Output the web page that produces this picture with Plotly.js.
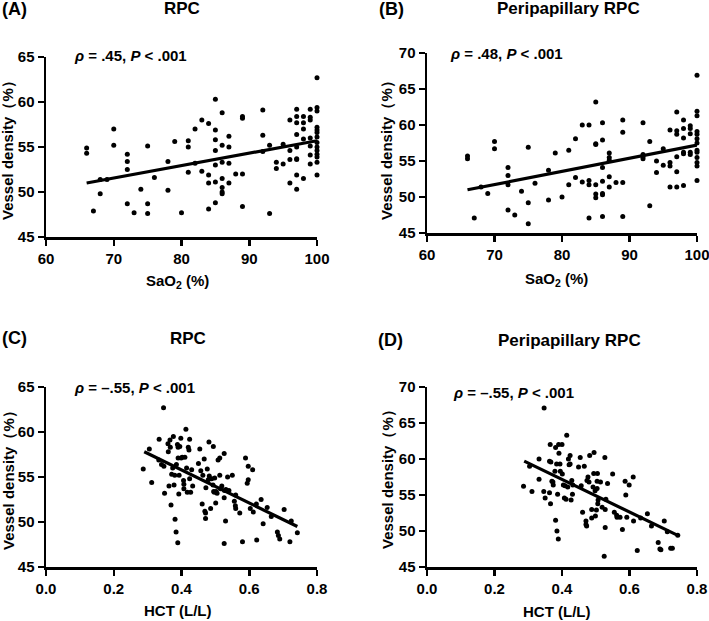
<!DOCTYPE html>
<html>
<head>
<meta charset="utf-8">
<script src="https://cdn.plot.ly/plotly-3.0.1.min.js"></script>
<style>html,body{margin:0;padding:0;background:#fff;}#chart{width:709px;height:621px;}</style>
</head>
<body>
<div id="chart"></div>
<script>
// Panel A: RPC vs SaO2
const saO2_A = [66,66,67,68,68,69,70,70,72,72,72,72,73,74,75,75,75,76,78,78,79,80,81,81,81,82,82,83,83,84,84,84,84,85,85,85,85,85,85,85,86,86,86,86,86,86,86,87,87,87,87,88,89,89,89,89,92,92,92,93,93,94,94,95,95,96,96,96,96,97,97,97,97,97,97,97,97,97,98,98,98,98,98,99,99,99,99,99,99,99,100,100,100,100,100,100,100,100,100,100,100,100,100,100];
const vd_A = [54.9,54.3,47.9,49.8,51.4,51.4,57.0,55.2,54.2,53.4,52.5,48.7,47.7,50.3,55.1,48.7,47.6,51.6,53.4,50.2,55.6,47.7,55.7,55.0,52.2,57.0,53.2,58.0,52.3,57.6,51.9,51.0,48.1,60.3,56.9,55.8,54.6,53.0,51.1,48.8,58.8,55.2,53.3,51.5,50.5,50.0,49.8,56.2,55.0,53.2,51.0,52.0,58.4,58.2,52.0,48.4,59.1,56.3,54.5,55.2,47.6,53.3,52.6,55.3,53.1,58.0,54.6,53.6,51.0,59.2,58.4,57.7,56.4,55.0,53.7,53.6,51.9,50.3,58.4,57.7,57.0,55.9,51.5,59.2,58.3,58.0,56.0,55.1,54.1,53.1,62.7,59.4,59.0,57.2,56.9,56.6,56.1,55.5,55.0,54.6,54.2,53.9,53.3,51.9];
const fitA_x = [66, 100];
const fitA_y = [51.0, 55.7];

// Panel B: Peripapillary RPC vs SaO2
const saO2_B = [66,66,67,68,69,70,70,72,72,72,72,73,74,75,75,75,76,78,78,79,80,81,81,82,82,83,83,84,84,84,84,85,85,85,85,85,85,86,86,86,86,86,86,86,87,87,87,87,87,88,89,89,89,89,92,92,92,92,93,93,94,94,95,95,96,96,96,96,97,97,97,97,97,97,98,98,98,98,98,98,99,99,99,99,99,100,100,100,100,100,100,100,100,100,100,100,100,100];
const vd_B = [55.7,55.3,47.1,51.4,50.5,57.7,56.7,54.1,53.0,51.7,48.2,47.5,50.8,56.9,49.2,46.3,51.9,53.7,49.6,56.1,50.0,56.5,51.7,58.1,52.7,60.0,52.1,60.0,52.3,51.7,47.1,63.2,57.4,57.3,51.7,50.4,49.9,60.3,57.9,54.1,52.2,50.5,50.3,47.3,56.1,55.5,55.1,52.8,51.4,52.0,60.7,59.0,52.0,47.3,60.3,55.9,55.6,55.3,57.7,48.8,55.0,53.4,56.7,54.4,59.3,54.8,54.3,51.4,61.8,59.2,58.7,55.6,53.5,51.4,60.7,59.5,58.2,56.2,56.0,51.6,59.9,59.5,58.8,56.2,55.9,66.9,61.9,61.3,59.1,58.7,58.1,57.5,56.5,56.2,55.5,54.8,54.3,52.3];
const fitB_x = [66, 100];
const fitB_y = [51.0, 57.2];

// Panel C: RPC vs HCT
const hct_C = [0.347,0.287,0.305,0.312,0.334,0.333,0.341,0.350,0.348,0.360,0.361,0.363,0.366,0.367,0.369,0.371,0.374,0.376,0.380,0.378,0.381,0.384,0.389,0.385,0.388,0.390,0.390,0.392,0.393,0.395,0.398,0.399,0.402,0.406,0.407,0.407,0.410,0.413,0.415,0.417,0.420,0.422,0.424,0.424,0.427,0.430,0.433,0.450,0.454,0.457,0.461,0.463,0.467,0.469,0.471,0.471,0.472,0.476,0.479,0.481,0.482,0.486,0.489,0.494,0.493,0.495,0.497,0.498,0.501,0.502,0.505,0.508,0.513,0.513,0.515,0.519,0.526,0.527,0.526,0.530,0.531,0.526,0.536,0.540,0.550,0.556,0.559,0.560,0.560,0.572,0.580,0.589,0.594,0.597,0.597,0.603,0.610,0.612,0.622,0.621,0.641,0.635,0.653,0.665,0.683,0.686,0.690,0.703,0.720,0.724,0.742];
const vd_C = [62.7,55.9,58.1,54.4,59.2,56.9,56.4,53.2,56.2,58.7,57.8,54.0,59.1,58.3,51.9,55.3,56.0,59.5,55.2,54.1,50.3,48.9,47.7,56.4,58.6,58.3,57.1,53.1,55.2,58.4,59.3,57.1,57.2,54.6,54.2,53.7,57.2,60.3,56.0,53.3,58.3,58.0,59.2,54.8,53.3,55.8,54.0,56.5,58.1,55.7,52.0,55.2,57.0,51.2,51.0,50.4,53.8,55.9,54.7,58.9,55.1,51.5,54.8,58.4,54.1,53.4,53.3,54.9,52.1,53.4,53.2,56.9,57.1,55.2,53.7,54.0,52.7,53.5,57.6,50.1,53.6,47.6,55.0,53.5,55.2,52.3,51.8,53.0,51.5,51.0,47.8,57.1,54.3,54.7,56.2,51.5,55.8,51.1,48.0,52.0,49.8,52.5,51.6,50.6,48.9,48.5,48.1,51.4,47.8,50.1,48.8];
const fitC_x = [0.29, 0.742];
const fitC_y = [57.8, 49.5];

// Panel D: Peripapillary RPC vs HCT
const hct_D = [0.347,0.286,0.304,0.311,0.332,0.332,0.346,0.350,0.365,0.363,0.367,0.366,0.363,0.370,0.373,0.381,0.381,0.385,0.389,0.374,0.379,0.384,0.390,0.391,0.394,0.395,0.387,0.400,0.401,0.404,0.407,0.409,0.412,0.414,0.417,0.419,0.421,0.424,0.424,0.427,0.429,0.431,0.432,0.449,0.454,0.457,0.461,0.466,0.471,0.471,0.473,0.474,0.477,0.480,0.482,0.488,0.488,0.492,0.495,0.494,0.498,0.499,0.502,0.504,0.505,0.504,0.507,0.506,0.514,0.527,0.528,0.530,0.535,0.528,0.525,0.519,0.550,0.555,0.562,0.563,0.572,0.579,0.587,0.589,0.592,0.599,0.611,0.612,0.623,0.633,0.653,0.665,0.685,0.690,0.693,0.703,0.722,0.727,0.712,0.743];
const vd_D = [67.1,56.2,59.0,55.5,60.0,57.2,55.5,54.6,62.0,59.7,59.6,53.8,55.3,56.9,56.8,61.6,51.5,50.0,48.9,56.4,58.3,59.3,62.0,60.8,59.3,58.3,55.1,62.0,57.9,56.4,54.6,56.3,54.4,63.3,56.1,60.0,59.2,60.5,59.3,54.3,57.0,55.1,56.4,58.9,60.2,56.3,52.6,59.0,51.4,50.9,50.7,57.0,57.5,56.8,60.5,53.0,51.8,56.1,60.9,58.0,55.6,52.1,52.9,56.9,58.0,55.9,54.3,53.8,56.8,60.2,53.0,54.4,56.6,50.5,46.5,53.3,57.9,52.6,52.2,51.9,51.9,50.2,56.9,55.0,51.9,56.4,57.5,51.4,47.3,51.8,52.4,50.7,48.4,47.5,47.4,51.4,47.6,47.6,49.9,49.4];
const fitD_x = [0.288, 0.743];
const fitD_y = [59.7, 49.4];

// Tick values and labels
const saO2Ticks = [60, 70, 80, 90, 100];
const saO2TickLabels = ["60", "70", "80", "90", "100"];
const hctTicks = [0, 0.2, 0.4, 0.6, 0.8];
const hctTickLabels = ["0.0", "0.2", "0.4", "0.6", "0.8"];
const vdTicksRPC = [45, 50, 55, 60, 65];
const vdTickLabelsRPC = ["45", "50", "55", "60", "65"];
const vdTicksPeri = [45, 50, 55, 60, 65, 70];
const vdTickLabelsPeri = ["45", "50", "55", "60", "65", "70"];

const panelTitles = ["RPC", "Peripapillary RPC", "RPC", "Peripapillary RPC"];
const panelLetters = ["(A)", "(B)", "(C)", "(D)"];
const statTexts = ["<i>ρ</i> = .45, <i>P</i> &lt; .001", "<i>ρ</i> = .48, <i>P</i> &lt; .001", "<i>ρ</i> = \u2013.55, <i>P</i> &lt; .001", "<i>ρ</i> = \u2013.55, <i>P</i> &lt; .001"];
const xTitles = ["SaO<sub>2</sub> (%)", "SaO<sub>2</sub> (%)", "HCT (L/L)", "HCT (L/L)"];
const yTitle = "Vessel density\uFF08%\uFF09";

const W = 709, H = 621;
const FONT = "Liberation Sans, Arial, Helvetica, sans-serif";
const px = v => v / W;
const py = v => 1 - v / H;
const bold = arr => arr.map(s => '<b>' + s + '</b>');

const scatterData = [[saO2_A, vd_A, fitA_x, fitA_y], [saO2_B, vd_B, fitB_x, fitB_y], [hct_C, vd_C, fitC_x, fitC_y], [hct_D, vd_D, fitD_x, fitD_y]];
const traces = [];
scatterData.forEach((d, i) => {
  const ax = i === 0 ? '' : String(i + 1);
  traces.push({x: d[0], y: d[1], type: 'scatter', mode: 'markers', xaxis: 'x' + ax, yaxis: 'y' + ax,
    marker: {color: '#000', size: 5}, cliponaxis: false, showlegend: false, hoverinfo: 'skip'});
  traces.push({x: d[2], y: d[3], type: 'scatter', mode: 'lines', xaxis: 'x' + ax, yaxis: 'y' + ax,
    line: {color: '#000', width: 3.2}, cliponaxis: false, showlegend: false, hoverinfo: 'skip'});
});

// plot-area pixel boxes [left, right, top, bottom]
const boxes = [[46, 317, 57, 237], [427, 697, 53, 233], [46, 317, 387, 567], [427, 697, 387, 567]];
const xRanges = [[60, 100], [60, 100], [0, 0.8], [0, 0.8]];
const xTickSets = [[saO2Ticks, saO2TickLabels], [saO2Ticks, saO2TickLabels], [hctTicks, hctTickLabels], [hctTicks, hctTickLabels]];
const yRanges = [[45, 65], [45, 70], [45, 65], [45, 70]];
const yTickSets = [[vdTicksRPC, vdTickLabelsRPC], [vdTicksPeri, vdTickLabelsPeri], [vdTicksRPC, vdTickLabelsRPC], [vdTicksPeri, vdTickLabelsPeri]];
const tickFont = {family: FONT, size: 15, color: '#000'};

const layout = {
  width: W, height: H, margin: {l: 0, r: 0, t: 0, b: 0},
  paper_bgcolor: '#fff', plot_bgcolor: 'rgba(0,0,0,0)', showlegend: false,
  annotations: []
};
boxes.forEach((b, i) => {
  const ax = i === 0 ? '' : String(i + 1);
  layout['xaxis' + ax] = {domain: [px(b[0]), px(b[1])], range: xRanges[i],
    tickmode: 'array', tickvals: xTickSets[i][0], ticktext: bold(xTickSets[i][1]), ticklabeloverflow: 'allow',
    anchor: 'y' + ax, showgrid: false, zeroline: false, showline: true, linecolor: '#000', linewidth: 2.5,
    ticks: 'outside', ticklen: 6, tickwidth: 2.5, tickcolor: '#000', tickfont: tickFont, fixedrange: true};
  layout['yaxis' + ax] = {domain: [py(b[3]), py(b[2])], range: yRanges[i],
    tickmode: 'array', tickvals: yTickSets[i][0], ticktext: bold(yTickSets[i][1]), ticklabeloverflow: 'allow',
    anchor: 'x' + ax, showgrid: false, zeroline: false, showline: true, linecolor: '#000', linewidth: 2.5,
    ticks: 'outside', ticklen: 6, tickwidth: 2.5, tickcolor: '#000', tickfont: tickFont, fixedrange: true};
});

const letterPos = [[0, 9], [377, 9], [0, 338], [376, 340]];
const titlePos = [[182, 9], [568, 9], [188, 338], [569, 340]];
const statPos = [[72, 56], [448, 53], [72, 387], [451, 392]];
const xTitlePos = [[177, 281], [556, 279], [177, 610], [556, 611]];
const yTitlePos = [[8, 147], [387, 147], [8, 477], [387, 476]];
const ann = (text, x, y, xanchor, size, angle) => ({text: '<b>' + text + '</b>', x: px(x), y: py(y),
  xref: 'paper', yref: 'paper', xanchor: xanchor, yanchor: 'middle', showarrow: false,
  textangle: angle || 0, font: {family: FONT, size: size, color: '#000'}});
for (let i = 0; i < 4; i++) {
  layout.annotations.push(ann(panelLetters[i], letterPos[i][0], letterPos[i][1], 'left', 18));
  layout.annotations.push(ann(panelTitles[i], titlePos[i][0], titlePos[i][1], 'center', 17));
  layout.annotations.push(ann(statTexts[i], statPos[i][0], statPos[i][1], 'left', 15));
  layout.annotations.push(ann(xTitles[i], xTitlePos[i][0], xTitlePos[i][1], 'center', 15));
  layout.annotations.push(ann(yTitle, yTitlePos[i][0], yTitlePos[i][1], 'center', 15, -90));
}

Plotly.newPlot('chart', traces, layout, {displayModeBar: false, staticPlot: true});
</script>
</body>
</html>
